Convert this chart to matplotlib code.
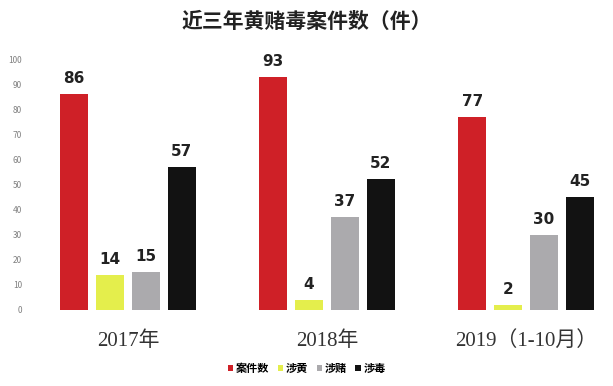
import matplotlib
matplotlib.use("Agg")
import matplotlib.pyplot as plt
import numpy as np

plt.rcParams['font.family'] = ['Noto Sans CJK SC', 'DejaVu Sans']

groups = ["2017年", "2018年", "2019（1-10月）"]
series = ["案件数", "涉黄", "涉赌", "涉毒"]
values = {
    "案件数": [86, 93, 77],
    "涉黄": [14, 4, 2],
    "涉赌": [15, 37, 30],
    "涉毒": [57, 52, 45],
}
colors = ["#cf2027", "#e4ee4c", "#abaaad", "#121212"]
yticks = list(range(0, 101, 10))

fig = plt.figure(figsize=(6.13, 3.86), dpi=100)
ax = fig.add_axes([0.0, 0.197, 1.0, 0.650])

step = 0.18
width = 0.142
x = np.arange(len(groups))
for i, (s, c) in enumerate(zip(series, colors)):
    pos = x + (i - 1.5) * step
    bars = ax.bar(pos, values[s], width=width, color=c, label=s)
    for b, v in zip(bars, values[s]):
        ax.text(b.get_x() + b.get_width() / 2, v + 3.2, str(v), ha='center', va='bottom',
                fontsize=11, fontweight='bold', color='#222222', family=['DejaVu Sans'])

ax.set_xlim(-0.643, 2.437)
ax.set_ylim(0, 100)
ax.set_yticks(yticks)
ax.tick_params(axis='y', length=0, labelsize=6, labelcolor='#808080', pad=-16)
ax.set_xticks([])
for sp in ax.spines.values():
    sp.set_visible(False)

for xi, g in zip(x, groups):
    ax.text(xi, -8.5, g, ha='center', va='top', fontsize=15, color='#333333',
            family=['Liberation Serif', 'Noto Sans CJK SC'])

fig.text(0.5, 0.945, "近三年黄赌毒案件数（件）", ha='center', va='center', fontsize=15,
         fontweight='bold', color='#222222')

leg = fig.legend(loc='center', bbox_to_anchor=(0.5, 0.045), ncol=4, frameon=False,
                 prop={'size': 8, 'weight': 'bold'}, handlelength=0.5, handleheight=0.5,
                 handletextpad=0.2, columnspacing=0.8)

fig.savefig("out.png", dpi=100, facecolor='white')
